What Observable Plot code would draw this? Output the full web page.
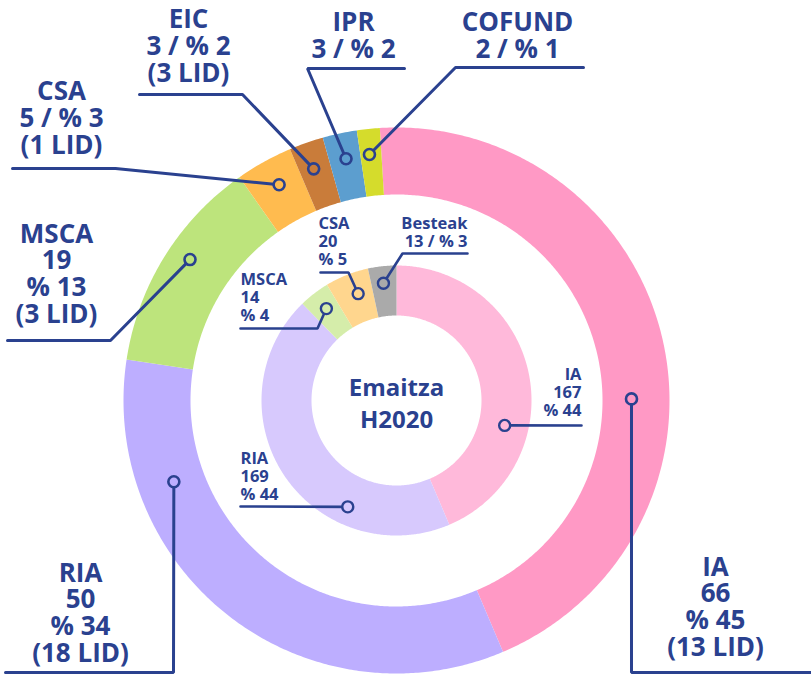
<!DOCTYPE html>
<html><head><meta charset="utf-8">
<script src="https://cdn.jsdelivr.net/npm/d3@7"></script>
<script src="https://cdn.jsdelivr.net/npm/@observablehq/plot@0.6"></script>
<style>body{margin:0;background:#fff;overflow:hidden} #chart svg{display:block;}</style>
</head><body><div id="chart"></div>
<script>
// ---- data ----
const outerCats = ["IA", "RIA", "MSCA", "CSA", "EIC", "IPR", "COFUND"];
const outerVals = [66, 50, 19, 5, 3, 3, 2];
const outerPct  = [45, 34, 13, 3, 2, 2, 1];
const outerLid  = [13, 18, 3, 1, 3, null, null];

const innerCats = ["IA", "RIA", "MSCA", "CSA", "Besteak"];
const innerVals = [167, 169, 14, 20, 13];
const innerPct  = [44, 44, 4, 5, 3];

const centerTitle = ["Emaitza", "H2020"];

// ---- styles ----
const outerColors = ["#ff99c5", "#bdaeff", "#bde47c", "#ffbb4f", "#c97c3a", "#5c9ecf", "#d5dc2c"];
const innerColors = ["#ffb9da", "#d7c9fd", "#d5edaa", "#ffd68e", "#aaaaaa"];
const navy = "#2a418f";
const font = "'Open Sans', 'DejaVu Sans', sans-serif";

// ---- layout ----
const W = 811, H = 674, CX = 396, CY = 400;
const outerRing = {r0: 206, r1: 273, offset: -3.5};
const innerRing = {r0: 85, r1: 135, offset: 0};

const outerLayout = [
  {frac: 0.58,  r: 235,   path: [[631, 672], [811, 672]], tx: 715, ty: 655, anchor: "middle", inline: false},
  {frac: 0.764, r: 237,   path: [[173, 672], [5, 672]],   tx: 80,  ty: 661, anchor: "middle", inline: false},
  {frac: 0.555, r: 250,   path: [[110, 340], [7, 340]],   tx: 56,  ty: 322, anchor: "middle", inline: false},
  {frac: 0.54,  r: 245.6, path: [[115, 168], [12, 168]],  tx: 61,  ty: 153, anchor: "middle", inline: true},
  {frac: 0.45,  r: 246,   path: [[242, 94], [139, 94]],   tx: 188, ty: 81,  anchor: "middle", inline: true},
  {frac: 0.53,  r: 247,   path: [[307, 68], [404, 68]],   tx: 353, ty: 57,  anchor: "middle", inline: true},
  {frac: 0.43,  r: 247.5, path: [[455, 67], [583, 67]],   tx: 517, ty: 57,  anchor: "middle", inline: true}
];
const innerLayout = [
  {frac: 0.656, r: 111,   path: [[581, 425]],             tx: 581, ty: 415, anchor: "end",   inline: false},
  {frac: 0.30,  r: 117,   path: [[240, 506]],             tx: 240, ty: 499, anchor: "start", inline: false},
  {frac: 0.52,  r: 115.6, path: [[317, 328], [240, 328]], tx: 240, ty: 320, anchor: "start", inline: false},
  {frac: 0.60,  r: 113.5, path: [[348, 272], [320, 272]], tx: 318, ty: 264, anchor: "start", inline: false},
  {frac: 0.48,  r: 118,   path: [[402, 253], [467, 253]], tx: 467, ty: 246, anchor: "end",   inline: true}
];

// ---- geometry helpers ----
const rad = d => d * Math.PI / 180;
function polar(r, a) { return {x: CX + r * Math.sin(a), y: CY - r * Math.cos(a)}; }
function segments(cats, vals, ring, colors, prefix) {
  const off = rad(ring.offset);
  const arcs = d3.pie().sort(null).startAngle(off).endAngle(off + 2 * Math.PI)(vals);
  return arcs.map((a, i) => ({key: prefix + cats[i], a0: a.startAngle, a1: a.endAngle, color: colors[i], ring}));
}
function polygon(seg) {
  const n = Math.max(2, Math.ceil((seg.a1 - seg.a0) / rad(0.5)));
  const pts = [];
  for (let k = 0; k <= n; k++) pts.push({...polar(seg.ring.r1, seg.a0 + (seg.a1 - seg.a0) * k / n), key: seg.key, color: seg.color});
  for (let k = n; k >= 0; k--) pts.push({...polar(seg.ring.r0, seg.a0 + (seg.a1 - seg.a0) * k / n), key: seg.key, color: seg.color});
  return pts;
}

const outerSegs = segments(outerCats, outerVals, outerRing, outerColors, "o-");
const innerSegs = segments(innerCats, innerVals, innerRing, innerColors, "i-");
const ringPts = [...outerSegs, ...innerSegs].flatMap(polygon);

function callouts(segs, layout, vals, pcts, lids) {
  return segs.map((s, i) => {
    const L = layout[i];
    const dot = {...polar(L.r, s.a0 + (s.a1 - s.a0) * L.frac), color: s.color};
    const lines = [s.key.slice(2)];
    if (L.inline) lines.push(`${vals[i]} / % ${pcts[i]}`);
    else lines.push(`${vals[i]}`, `% ${pcts[i]}`);
    if (lids && lids[i] != null) lines.push(`(${lids[i]} LID)`);
    const path = [{x: dot.x, y: dot.y}, ...L.path.map(([x, y]) => ({x, y}))].map(p => ({...p, key: s.key}));
    return {dot, path, label: {x: L.tx, y: L.ty, text: lines.join("\n"), anchor: L.anchor}};
  });
}
const outerC = callouts(outerSegs, outerLayout, outerVals, outerPct, outerLid);
const innerC = callouts(innerSegs, innerLayout, innerVals, innerPct, null);

const plot = Plot.plot({
  width: W, height: H, margin: 0,
  style: {fontFamily: font, background: "#fff"},
  x: {domain: [0, W], range: [0, W], axis: null},
  y: {domain: [0, H], range: [0, H], axis: null},
  color: {type: "identity"},
  marks: [
    Plot.line(ringPts, {x: "x", y: "y", z: "key", fill: "color", stroke: "none", curve: "linear"}),
    Plot.line(outerC.flatMap(c => c.path), {x: "x", y: "y", z: "key", stroke: navy, strokeWidth: 3, strokeLinejoin: "miter"}),
    Plot.line(innerC.flatMap(c => c.path), {x: "x", y: "y", z: "key", stroke: navy, strokeWidth: 2.6, strokeLinejoin: "miter"}),
    Plot.dot(outerC.map(c => c.dot), {x: "x", y: "y", r: 5.5, fill: "color", stroke: navy, strokeWidth: 2.6}),
    Plot.dot(innerC.map(c => c.dot), {x: "x", y: "y", r: 5.5, fill: "color", stroke: navy, strokeWidth: 2.4}),
    Plot.text(outerC.map(c => c.label), {x: "x", y: "y", text: "text", textAnchor: "middle", lineAnchor: "bottom",
      fontSize: 26, lineHeight: 1.02, fontWeight: 700, fill: navy, fontFamily: font}),
    Plot.text(innerC.map(c => c.label).filter(l => l.anchor === "start"), {x: "x", y: "y", text: "text", textAnchor: "start", lineAnchor: "bottom",
      fontSize: 16.5, lineHeight: 1.08, fontWeight: 700, fill: navy, fontFamily: font}),
    Plot.text(innerC.map(c => c.label).filter(l => l.anchor === "end"), {x: "x", y: "y", text: "text", textAnchor: "end", lineAnchor: "bottom",
      fontSize: 16.5, lineHeight: 1.08, fontWeight: 700, fill: navy, fontFamily: font}),
    Plot.text([centerTitle.join("\n")], {x: CX, y: 427, text: d => d, textAnchor: "middle", lineAnchor: "bottom",
      fontSize: 24, lineHeight: 1.33, fontWeight: 700, fill: navy, fontFamily: font})
  ]
});
document.getElementById("chart").appendChild(plot);
</script>
</body></html>
